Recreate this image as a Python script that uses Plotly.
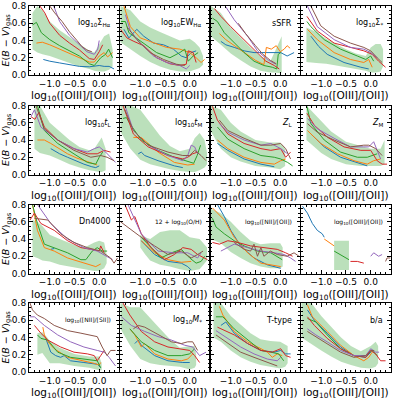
import plotly.graph_objects as go

W, H = 399, 399
COLORS = {"blue": "#1f77b4", "orange": "#ff7f0e", "green": "#2ca02c",
          "red": "#d62728", "purple": "#9467bd", "brown": "#8c564b"}
ORDER = ["blue", "orange", "green", "red", "purple", "brown"]

XTICKS = [-1.0, -0.5, 0.0]
XTICKTEXT = ["\u22121.0", "\u22120.5", "0.0"]
YTICKS = [0.0, 0.2, 0.4, 0.6, 0.8]
YTICKTEXT = ["0.0", "0.2", "0.4", "0.6", "0.8"]

# ---------------- panel data: each series is (x, y) ----------------
SIGHA = {
    "blue": ([-1.13, -1.0, -0.8, -0.6, -0.4, -0.2, 0.0, 0.1, 0.2, 0.3],
             [0.18, 0.16, 0.14, 0.12, 0.10, 0.095, 0.11, 0.10, 0.10, 0.07]),
    "orange": ([-1.27, -1.15, -1.0, -0.8, -0.6, -0.4, -0.2, -0.1, 0.0, 0.1, 0.17, 0.27],
               [0.37, 0.38, 0.35, 0.30, 0.25, 0.20, 0.15, 0.15, 0.22, 0.26, 0.21, 0.26]),
    "green": ([-1.35, -1.27, -1.17, -1.0, -0.8, -0.6, -0.4, -0.2, -0.1, 0.03, 0.13, 0.19, 0.27],
              [0.58, 0.61, 0.49, 0.41, 0.34, 0.28, 0.22, 0.13, 0.11, 0.20, 0.24, 0.30, 0.20]),
    "red": ([-1.2, -1.1, -1.0, -0.8, -0.6, -0.4, -0.2, -0.1, 0.0, 0.07],
            [0.80, 0.72, 0.60, 0.46, 0.37, 0.29, 0.19, 0.18, 0.27, 0.35]),
    "purple": ([-0.92, -0.8, -0.6, -0.4, -0.25, -0.1, -0.03, 0.0],
               [0.80, 0.62, 0.46, 0.35, 0.27, 0.24, 0.30, 0.40]),
    "brown": ([-1.0, -0.9, -0.75, -0.6, -0.45, -0.35, -0.25, -0.15],
              [0.80, 0.72, 0.62, 0.50, 0.40, 0.33, 0.29, 0.27]),
}
SIGHA_BAND = ([-1.35, -1.25, -1.15, -1.0, -0.8, -0.6, -0.4, -0.2, -0.1, 0.0, 0.1, 0.2, 0.27],
              [0.72, 0.80, 0.75, 0.62, 0.52, 0.44, 0.36, 0.28, 0.26, 0.35, 0.45, 0.48, 0.30],
              [0.30, 0.26, 0.24, 0.22, 0.18, 0.14, 0.10, 0.07, 0.05, 0.04, 0.04, 0.06, 0.10])

EWHA = {
    "blue": ([-1.33, -1.23, -1.07, -0.93, -0.73, -0.53, -0.33, -0.17, -0.07, 0.03, 0.13],
             [0.53, 0.43, 0.53, 0.45, 0.37, 0.35, 0.30, 0.22, 0.20, 0.26, 0.28]),
    "orange": ([-1.33, -1.2, -1.0, -0.73, -0.47, -0.2, 0.0, 0.13, 0.23, 0.3],
               [0.80, 0.56, 0.43, 0.37, 0.32, 0.30, 0.26, 0.20, 0.145, 0.18]),
    "green": ([-1.39, -1.3, -1.23, -1.13, -0.93, -0.67, -0.4, -0.2, -0.1, -0.03, 0.07, 0.17],
              [0.62, 0.62, 0.49, 0.45, 0.37, 0.26, 0.20, 0.26, 0.30, 0.16, 0.22, 0.26]),
    "red": ([-1.4, -1.27, -1.13, -0.93, -0.67, -0.4, -0.2, -0.07, -0.03, 0.07, 0.13],
            [0.53, 0.43, 0.39, 0.34, 0.20, 0.13, 0.11, 0.125, 0.28, 0.26, 0.145]),
    "purple": ([-1.3, -1.2, -1.0, -0.73, -0.47, -0.2, -0.07, 0.0],
               [0.70, 0.51, 0.37, 0.22, 0.145, 0.11, 0.07, 0.11]),
    "brown": ([-1.27, -1.07, -0.8, -0.53, -0.27, -0.1],
              [0.56, 0.41, 0.26, 0.18, 0.125, 0.11]),
}
EWHA_BAND = ([-1.4, -1.2, -1.0, -0.8, -0.6, -0.4, -0.2, 0.0, 0.1, 0.2, 0.27],
             [0.80, 0.75, 0.62, 0.55, 0.50, 0.45, 0.40, 0.42, 0.38, 0.32, 0.22],
             [0.38, 0.30, 0.22, 0.15, 0.10, 0.06, 0.04, 0.04, 0.06, 0.08, 0.12])

SSFR = {
    "blue": ([-1.2, -1.1, -0.93, -0.73, -0.53, -0.26, 0.01, 0.14, 0.28],
             [0.39, 0.35, 0.32, 0.28, 0.26, 0.26, 0.26, 0.22, 0.26]),
    "orange": ([-1.23, -1.1, -0.9, -0.7, -0.5, -0.33, -0.28, -0.18, -0.08, 0.0, 0.08, 0.14, 0.2],
               [0.48, 0.41, 0.33, 0.25, 0.17, 0.12, 0.32, 0.30, 0.34, 0.27, 0.30, 0.34, 0.31]),
    "green": ([-1.37, -1.27, -1.13, -0.93, -0.73, -0.53, -0.33, -0.16, -0.07, -0.04, 0.01],
              [0.66, 0.62, 0.49, 0.37, 0.26, 0.16, 0.11, 0.09, 0.07, 0.24, 0.26]),
    "red": ([-1.33, -1.2, -1.0, -0.73, -0.53, -0.29, -0.12, -0.02],
            [0.77, 0.68, 0.56, 0.41, 0.30, 0.16, 0.11, 0.07]),
    "purple": ([-1.1, -0.93, -0.66, -0.46, -0.26, -0.09],
               [0.79, 0.64, 0.45, 0.28, 0.18, 0.125]),
    "brown": ([-0.85, -0.7, -0.5, -0.35, -0.2, -0.08],
              [0.60, 0.48, 0.34, 0.24, 0.17, 0.13]),
}
SSFR_BAND = ([-1.4, -1.2, -1.0, -0.8, -0.6, -0.4, -0.2, -0.1, 0.0, 0.03],
             [0.80, 0.72, 0.55, 0.43, 0.32, 0.22, 0.16, 0.28, 0.42, 0.45],
             [0.45, 0.35, 0.25, 0.17, 0.10, 0.05, 0.03, 0.03, 0.02, 0.03])

SIGSTAR = {
    "blue": ([-1.21, -1.1, -1.05, -0.88, -0.54, -0.2, -0.04],
             [0.45, 0.36, 0.33, 0.24, 0.145, 0.09, 0.07]),
    "orange": ([-1.28, -1.08, -0.74, -0.41, -0.14, -0.04, 0.03],
               [0.53, 0.41, 0.26, 0.18, 0.145, 0.18, 0.09]),
    "green": ([-1.29, -1.21, -0.94, -0.61, -0.27, -0.1, 0.0, 0.06],
              [0.62, 0.56, 0.41, 0.30, 0.22, 0.18, 0.22, 0.16]),
    "red": ([-1.29, -1.08, -0.74, -0.41, -0.14, 0.03, 0.16, 0.3],
            [0.68, 0.51, 0.37, 0.32, 0.28, 0.24, 0.16, 0.09]),
    "purple": ([-1.28, -1.08, -0.74, -0.41, -0.14, 0.0, 0.13],
               [0.80, 0.56, 0.41, 0.32, 0.30, 0.26, 0.20]),
    "brown": ([-1.21, -1.01, -0.74, -0.41, -0.14, 0.0, 0.13, 0.23],
              [0.80, 0.57, 0.45, 0.37, 0.32, 0.28, 0.20, 0.145]),
}
SIGSTAR_BAND = ([-1.3, -1.1, -0.9, -0.7, -0.5, -0.3, -0.1, 0.0, 0.1, 0.2, 0.25],
                [0.55, 0.50, 0.42, 0.36, 0.30, 0.25, 0.22, 0.32, 0.36, 0.36, 0.30],
                [0.15, 0.14, 0.13, 0.11, 0.09, 0.07, 0.05, 0.03, 0.03, 0.04, 0.10])

TL = {
    "blue": ([-0.98, -0.8, -0.64, -0.45, -0.31, -0.15, -0.07, 0.0],
             [0.30, 0.24, 0.20, 0.15, 0.12, 0.09, 0.08, 0.10]),
    "orange": ([-1.25, -1.11, -0.98, -0.8, -0.64, -0.45, -0.31, -0.15, -0.04],
               [0.40, 0.40, 0.36, 0.30, 0.24, 0.19, 0.16, 0.13, 0.11]),
    "green": ([-1.25, -1.11, -0.84, -0.51, -0.24, -0.07, 0.0, 0.07],
              [0.80, 0.51, 0.36, 0.24, 0.14, 0.12, 0.20, 0.26]),
    "red": ([-1.38, -1.3, -1.22, -1.11, -0.84, -0.51, -0.24, -0.04, 0.1, 0.23],
            [0.67, 0.64, 0.72, 0.55, 0.40, 0.30, 0.24, 0.24, 0.28, 0.26]),
    "purple": ([-1.38, -1.31, -1.18, -0.84, -0.51, -0.24, -0.1, 0.0, 0.13, 0.27, 0.33],
               [0.67, 0.75, 0.55, 0.40, 0.30, 0.26, 0.30, 0.32, 0.26, 0.18, 0.14]),
    "brown": ([-1.28, -1.11, -0.84, -0.51, -0.17, 0.03, 0.16, 0.3],
              [0.80, 0.53, 0.40, 0.28, 0.20, 0.22, 0.20, 0.16]),
}
TL_BAND = ([-1.31, -1.2, -1.0, -0.8, -0.6, -0.4, -0.2, -0.1, 0.0, 0.05, 0.13],
           [0.80, 0.80, 0.60, 0.50, 0.40, 0.32, 0.28, 0.30, 0.38, 0.43, 0.30],
           [0.30, 0.25, 0.22, 0.17, 0.12, 0.08, 0.05, 0.04, 0.03, 0.03, 0.05])

TM = {
    "blue": ([-1.04, -0.98, -0.91, -0.64, -0.31, -0.14],
             [0.24, 0.26, 0.22, 0.16, 0.10, 0.08]),
    "orange": ([-1.14, -0.98, -0.64, -0.31, -0.04, 0.1],
               [0.43, 0.43, 0.26, 0.14, 0.11, 0.12]),
    "green": ([-1.35, -1.28, -1.21, -0.98, -0.64, -0.31, -0.14, 0.0, 0.08, 0.15, 0.22],
              [0.65, 0.66, 0.59, 0.40, 0.28, 0.20, 0.17, 0.14, 0.13, 0.22, 0.34]),
    "red": ([-1.35, -1.14, -0.84, -0.44, -0.14, -0.04, 0.06, 0.16],
            [0.80, 0.47, 0.32, 0.22, 0.18, 0.20, 0.24, 0.26]),
    "purple": ([-1.31, -1.14, -0.84, -0.44, -0.14, -0.04, 0.03, 0.1, 0.16],
               [0.80, 0.51, 0.34, 0.22, 0.16, 0.22, 0.34, 0.32, 0.24]),
    "brown": ([-1.31, -1.14, -0.84, -0.44, -0.14, 0.0, 0.1, 0.23, 0.33],
              [0.75, 0.51, 0.34, 0.26, 0.22, 0.22, 0.28, 0.22, 0.16]),
}
TM_BAND = ([-1.4, -1.2, -1.0, -0.8, -0.6, -0.4, -0.2, 0.0, 0.1, 0.2, 0.3, 0.35],
           [0.80, 0.80, 0.75, 0.60, 0.45, 0.33, 0.27, 0.30, 0.42, 0.48, 0.40, 0.25],
           [0.50, 0.30, 0.17, 0.12, 0.09, 0.06, 0.04, 0.03, 0.03, 0.05, 0.08, 0.12])

ZL = {
    "blue": ([-1.27, -1.06, -0.73, -0.39, -0.12],
             [0.36, 0.28, 0.18, 0.12, 0.09]),
    "orange": ([-1.27, -1.06, -0.73, -0.39, -0.12, 0.01, 0.11],
               [0.40, 0.30, 0.20, 0.14, 0.12, 0.16, 0.18]),
    "green": ([-1.27, -1.06, -0.73, -0.39, -0.12, 0.01, 0.15, 0.25],
              [0.55, 0.41, 0.30, 0.22, 0.20, 0.18, 0.14, 0.10]),
    "red": ([-1.37, -1.27, -1.06, -0.73, -0.39, -0.19, 0.01, 0.11, 0.21],
            [0.79, 0.63, 0.47, 0.36, 0.30, 0.28, 0.30, 0.20, 0.26]),
    "purple": ([-1.23, -1.06, -0.73, -0.39, -0.19, 0.01, 0.15],
               [0.59, 0.49, 0.40, 0.34, 0.36, 0.30, 0.24]),
    "brown": ([-1.23, -1.06, -0.73, -0.39, -0.19, 0.01, 0.11, 0.21],
              [0.63, 0.51, 0.42, 0.34, 0.34, 0.36, 0.30, 0.18]),
}
ZL_BAND = ([-1.4, -1.2, -1.0, -0.8, -0.5, -0.2, 0.0, 0.1],
           [0.80, 0.75, 0.60, 0.50, 0.40, 0.37, 0.37, 0.30],
           [0.50, 0.30, 0.20, 0.15, 0.10, 0.08, 0.06, 0.10])

ZM = {
    "blue": ([-1.21, -0.94, -0.61, -0.27, -0.07],
             [0.47, 0.32, 0.20, 0.14, 0.10]),
    "orange": ([-1.28, -1.01, -0.67, -0.34, -0.07, 0.06, 0.2],
               [0.51, 0.36, 0.24, 0.16, 0.12, 0.16, 0.18]),
    "green": ([-1.29, -1.21, -0.94, -0.61, -0.27, -0.07, 0.13],
              [0.79, 0.59, 0.40, 0.26, 0.20, 0.20, 0.24]),
    "red": ([-1.29, -1.14, -0.87, -0.54, -0.2, 0.0, 0.13, 0.23, 0.33],
            [0.71, 0.57, 0.43, 0.32, 0.28, 0.28, 0.16, 0.12, 0.12]),
    "purple": ([-1.28, -1.08, -0.74, -0.41, -0.14, -0.04, 0.06, 0.13, 0.2],
               [0.65, 0.53, 0.42, 0.32, 0.32, 0.32, 0.38, 0.28, 0.18]),
    "brown": ([-1.28, -1.08, -0.74, -0.41, -0.14, -0.04, 0.1, 0.23],
              [0.59, 0.49, 0.40, 0.32, 0.34, 0.34, 0.30, 0.22]),
}
ZM_BAND = ([-1.3, -1.0, -0.8, -0.5, -0.2, 0.0, 0.2, 0.28],
           [0.80, 0.62, 0.50, 0.38, 0.33, 0.30, 0.30, 0.40],
           [0.40, 0.25, 0.18, 0.12, 0.10, 0.10, 0.10, 0.12])

DN4000 = {
    "blue": ([-0.98, -0.91], [0.28, 0.29]),
    "orange": ([-1.35, -1.25, -1.11, -0.91, -0.64, -0.31, -0.07, 0.03],
               [0.80, 0.50, 0.30, 0.26, 0.18, 0.12, 0.08, 0.11]),
    "green": ([-1.35, -1.25, -1.11, -0.91, -0.64, -0.37, -0.27, -0.14, -0.04, 0.06, 0.16],
              [0.80, 0.58, 0.34, 0.30, 0.24, 0.16, 0.16, 0.26, 0.30, 0.26, 0.26]),
    "red": ([-1.4, -1.31, -1.18, -0.91, -0.64, -0.37, -0.17, 0.0, 0.03, 0.1],
            [0.62, 0.70, 0.58, 0.50, 0.38, 0.30, 0.28, 0.26, 0.32, 0.24]),
    "purple": ([-1.25, -0.98, -0.64, -0.31, -0.04, 0.16, 0.27],
               [0.80, 0.58, 0.40, 0.30, 0.26, 0.20, 0.16]),
    "brown": ([-1.31, -1.04, -0.78, -0.51, -0.24, 0.03, 0.23, 0.3, 0.37],
              [0.64, 0.62, 0.46, 0.36, 0.30, 0.26, 0.18, 0.12, 0.18]),
}
DN4000_BAND = ([-1.35, -1.25, -1.15, -1.0, -0.8, -0.5, -0.3, -0.1, 0.0, 0.1, 0.15],
               [0.62, 0.60, 0.55, 0.45, 0.40, 0.33, 0.30, 0.36, 0.38, 0.36, 0.22],
               [0.20, 0.18, 0.15, 0.14, 0.10, 0.07, 0.05, 0.03, 0.03, 0.06, 0.12])

OH = {
    "blue": ([-0.98, -0.71, -0.44, -0.17, -0.04, 0.03],
             [0.38, 0.22, 0.14, 0.12, 0.08, 0.04]),
    "orange": ([-0.98, -0.71, -0.44, -0.17, 0.03],
               [0.38, 0.24, 0.16, 0.13, 0.14]),
    "green": ([-0.98, -0.84, -0.58, -0.37, -0.17, 0.0, 0.13, 0.23, 0.3],
              [0.42, 0.34, 0.18, 0.24, 0.28, 0.18, 0.12, 0.14, 0.20]),
    "red": ([-1.31, -1.18, -1.11, -0.98, -0.78, -0.51, -0.31, -0.14, 0.03, 0.16, 0.36],
            [0.80, 0.62, 0.66, 0.46, 0.30, 0.16, 0.22, 0.30, 0.28, 0.22, 0.16]),
    "purple": ([-1.25, -0.98, -0.64, -0.31, -0.04, 0.16, 0.23],
               [0.80, 0.46, 0.26, 0.24, 0.24, 0.18, 0.24]),
    "brown": ([-1.4, -1.18, -0.98, -0.71, -0.44, -0.17, 0.03, 0.16, 0.27],
              [0.60, 0.50, 0.42, 0.32, 0.22, 0.26, 0.18, 0.22, 0.26]),
}
OH_BAND = ([-1.0, -0.9, -0.8, -0.6, -0.4, -0.2, 0.0, 0.2, 0.35],
           [0.45, 0.42, 0.40, 0.48, 0.50, 0.50, 0.42, 0.40, 0.30],
           [0.30, 0.22, 0.15, 0.10, 0.08, 0.05, 0.03, 0.05, 0.15])

N2O2 = {
    "blue": ([-1.27, -1.13, -1.0, -0.8, -0.53, -0.26, 0.01],
             [0.80, 0.66, 0.50, 0.32, 0.18, 0.10, 0.06]),
    "orange": ([-1.37, -1.13, -0.93, -0.66, -0.39, 0.01],
               [0.76, 0.62, 0.42, 0.24, 0.12, 0.08]),
    "green": ([-1.37, -1.3, -1.13, -0.93, -0.73, -0.46, -0.19, -0.06, 0.04],
              [0.64, 0.54, 0.46, 0.38, 0.32, 0.26, 0.24, 0.20, 0.16]),
    "red": ([-1.37, -1.23, -1.06, -0.86, -0.6, -0.33, -0.06, 0.11, 0.25],
            [0.36, 0.34, 0.38, 0.36, 0.32, 0.30, 0.28, 0.24, 0.20]),
    "purple": ([-1.2, -0.93, -0.66, -0.39, -0.12, 0.08, 0.21, 0.31],
               [0.26, 0.34, 0.30, 0.26, 0.24, 0.22, 0.18, 0.14]),
    "brown": ([-0.93, -0.73, -0.6, -0.53, -0.46, -0.39, -0.33, -0.2, -0.06, 0.14, 0.28, 0.38],
              [0.36, 0.28, 0.26, 0.34, 0.20, 0.30, 0.20, 0.26, 0.22, 0.20, 0.24, 0.20]),
}
N2O2_BAND = ([-1.4, -1.2, -1.0, -0.8, -0.6, -0.4, -0.2, 0.0, 0.05],
             [0.75, 0.70, 0.60, 0.48, 0.38, 0.34, 0.35, 0.35, 0.30],
             [0.40, 0.35, 0.25, 0.18, 0.12, 0.08, 0.06, 0.06, 0.08])

O3O2 = {
    "blue": ([-1.38, -1.28, -1.18, -1.08, -0.98, -0.94],
             [0.78, 0.70, 0.58, 0.50, 0.46, 0.42]),
    "orange": ([-0.94, -0.84, -0.74], [0.40, 0.36, 0.32]),
    "green": ([-0.74, -0.61, -0.44], [0.26, 0.22, 0.16]),
    "red": ([-0.41, -0.27, -0.14], [0.14, 0.14, 0.12]),
    "purple": ([0.0, 0.06, 0.16, 0.23], [0.20, 0.24, 0.20, 0.22]),
    "brown": ([0.3, 0.33, 0.4], [0.14, 0.18, 0.18]),
}
O3O2_BAND = ([-0.74, -0.44], [0.38, 0.38], [0.04, 0.04])

N2S2 = {
    "blue": ([-1.08, -0.98, -0.88, -0.78, -0.71, -0.58, -0.31, -0.04, 0.03],
             [0.39, 0.23, 0.19, 0.17, 0.19, 0.13, 0.11, 0.09, 0.05]),
    "orange": ([-1.14, -1.11, -1.04, -0.91, -0.64, -0.31, -0.1, 0.0, 0.03],
               [0.52, 0.43, 0.35, 0.27, 0.17, 0.13, 0.10, 0.08, 0.11]),
    "green": ([-1.25, -1.18, -1.04, -0.84, -0.58, -0.24, -0.04, 0.03],
              [0.43, 0.39, 0.37, 0.23, 0.17, 0.15, 0.13, 0.05]),
    "red": ([-1.31, -1.18, -1.04, -0.78, -0.51, -0.24, -0.1, -0.04, 0.03, 0.1],
            [0.54, 0.45, 0.37, 0.29, 0.23, 0.21, 0.19, 0.13, 0.19, 0.25]),
    "purple": ([-1.4, -1.31, -1.11, -0.84, -0.58, -0.31, -0.04, 0.1, 0.2, 0.33],
               [0.64, 0.64, 0.54, 0.43, 0.35, 0.29, 0.25, 0.23, 0.17, 0.07]),
    "brown": ([-1.4, -1.35, -1.25, -1.11, -0.91, -0.64, -0.37, -0.17, -0.04, 0.06, 0.16, 0.23, 0.33],
              [0.80, 0.72, 0.66, 0.62, 0.54, 0.48, 0.45, 0.43, 0.41, 0.29, 0.19, 0.25, 0.25]),
}
N2S2_BAND = ([-1.25, -1.15, -1.05, -1.0, -0.8, -0.5, -0.2, 0.0, 0.05],
             [0.45, 0.46, 0.40, 0.36, 0.28, 0.21, 0.18, 0.18, 0.10],
             [0.20, 0.22, 0.14, 0.10, 0.10, 0.07, 0.05, 0.02, 0.02])

MSTAR = {
    "blue": ([-1.11, -1.04, -0.98, -0.71, -0.44, -0.14, 0.0],
             [0.33, 0.37, 0.31, 0.19, 0.13, 0.11, 0.11]),
    "orange": ([-1.21, -1.11, -0.98, -0.91, -0.71, -0.44, -0.17, -0.04, 0.06],
               [0.50, 0.43, 0.29, 0.33, 0.21, 0.15, 0.13, 0.15, 0.21]),
    "green": ([-1.21, -0.98, -0.71, -0.44, -0.17, 0.0, 0.1],
              [0.50, 0.35, 0.25, 0.19, 0.19, 0.21, 0.27]),
    "red": ([-1.35, -1.21, -0.98, -0.71, -0.44, -0.17, 0.0, 0.1, 0.2],
            [0.80, 0.66, 0.47, 0.35, 0.29, 0.27, 0.25, 0.19, 0.11]),
    "purple": ([-1.38, -1.18, -0.91, -0.64, -0.37, -0.1, 0.06, 0.2, 0.33],
               [0.64, 0.54, 0.47, 0.41, 0.37, 0.31, 0.29, 0.19, 0.23]),
    "brown": ([-1.14, -1.04, -0.91, -0.64, -0.37, -0.17, -0.04, 0.06, 0.16],
              [0.50, 0.54, 0.52, 0.43, 0.35, 0.33, 0.35, 0.35, 0.25]),
}
MSTAR_BAND = ([-1.4, -1.2, -1.0, -0.8, -0.6, -0.4, -0.2, 0.0, 0.1, 0.13],
              [0.80, 0.75, 0.75, 0.62, 0.50, 0.38, 0.28, 0.30, 0.30, 0.20],
              [0.50, 0.30, 0.15, 0.10, 0.08, 0.07, 0.06, 0.03, 0.05, 0.08])

TTYPE = {
    "blue": ([-1.2, -1.1, -0.93, -0.66, -0.39, -0.12, 0.01, 0.11, 0.21],
             [0.54, 0.58, 0.45, 0.33, 0.25, 0.23, 0.25, 0.21, 0.21]),
    "orange": ([-1.23, -1.16, -0.93, -0.66, -0.39, -0.26, -0.16, -0.06, 0.04],
               [0.76, 0.66, 0.47, 0.35, 0.27, 0.23, 0.17, 0.21, 0.19]),
    "green": ([-1.3, -1.16, -0.93, -0.66, -0.39, -0.19, -0.03, 0.07],
              [0.64, 0.64, 0.50, 0.37, 0.25, 0.23, 0.21, 0.13]),
    "red": ([-1.27, -0.93, -0.66, -0.39, -0.16, 0.01, 0.11, 0.21],
            [0.52, 0.43, 0.33, 0.25, 0.23, 0.27, 0.19, 0.17]),
    "purple": ([-1.3, -1.06, -0.8, -0.53, -0.26, -0.06, 0.01],
               [0.48, 0.39, 0.29, 0.21, 0.15, 0.13, 0.17]),
    "brown": ([-1.3, -1.06, -0.8, -0.53, -0.26, -0.06],
              [0.43, 0.33, 0.23, 0.17, 0.11, 0.07]),
}
TTYPE_BAND = ([-1.35, -1.2, -1.0, -0.8, -0.6, -0.4, -0.2, 0.0, 0.1, 0.15],
              [0.80, 0.80, 0.65, 0.55, 0.45, 0.38, 0.36, 0.35, 0.32, 0.30],
              [0.40, 0.35, 0.25, 0.17, 0.12, 0.08, 0.06, 0.04, 0.06, 0.10])

BA = {
    "blue": ([-1.28, -1.14, -0.88, -0.61, -0.34, -0.1, 0.0],
             [0.72, 0.60, 0.45, 0.29, 0.19, 0.17, 0.23]),
    "orange": ([-1.28, -1.18, -0.88, -0.61, -0.34, -0.14, -0.04, 0.03],
               [0.78, 0.64, 0.47, 0.31, 0.19, 0.13, 0.17, 0.23]),
    "green": ([-1.28, -1.11, -0.88, -0.61, -0.34, -0.1, 0.03, 0.13],
              [0.62, 0.58, 0.43, 0.27, 0.19, 0.19, 0.25, 0.19]),
    "red": ([-1.28, -1.14, -0.88, -0.61, -0.34, -0.1, 0.0, 0.1, 0.2, 0.3],
            [0.64, 0.54, 0.39, 0.27, 0.19, 0.17, 0.25, 0.21, 0.13, 0.13]),
    "purple": ([-1.28, -1.11, -0.88, -0.61, -0.34, -0.1, 0.0, 0.1, 0.17],
               [0.50, 0.43, 0.35, 0.25, 0.19, 0.19, 0.27, 0.23, 0.23]),
    "brown": ([-1.28, -1.11, -0.88, -0.61, -0.34, -0.1, 0.0, 0.07],
              [0.47, 0.41, 0.33, 0.23, 0.17, 0.19, 0.25, 0.25]),
}
BA_BAND = ([-1.4, -1.2, -1.0, -0.8, -0.6, -0.4, -0.2, 0.0, 0.1, 0.15],
           [0.80, 0.80, 0.65, 0.52, 0.40, 0.30, 0.24, 0.30, 0.35, 0.30],
           [0.40, 0.33, 0.25, 0.18, 0.12, 0.08, 0.05, 0.04, 0.06, 0.10])

LABELS = ["log<sub>10</sub>\u03a3<sub>H\u03b1</sub>", "log<sub>10</sub>EW<sub>H\u03b1</sub>", "sSFR",
          "log<sub>10</sub>\u03a3<sub>*</sub>",
          "log<sub>10</sub><i>t</i><sub>L</sub>", "log<sub>10</sub><i>t</i><sub>M</sub>",
          "<i>Z</i><sub>L</sub>", "<i>Z</i><sub>M</sub>",
          "Dn4000", "12 + log<sub>10</sub>(O/H)", "log<sub>10</sub>([NII]/[OII])",
          "log<sub>10</sub>([OIII]/[OII])",
          "log<sub>10</sub>([NII]/[SII])", "log<sub>10</sub><i>M</i><sub>*</sub>", "T-type", "b/a"]
LABEL_SIZES = [8, 8, 8, 8, 8, 8, 8, 8, 8, 6, 6, 6, 6, 8, 8, 8]
XTITLE = "log<sub>10</sub>([OIII]/[OII])"
YTITLE = "<i>E</i>(<i>B</i> \u2212 <i>V</i>)<sub>gas</sub>"
PANELS = [SIGHA, EWHA, SSFR, SIGSTAR, TL, TM, ZL, ZM,
          DN4000, OH, N2O2, O3O2, N2S2, MSTAR, TTYPE, BA]
BANDS = [SIGHA_BAND, EWHA_BAND, SSFR_BAND, SIGSTAR_BAND, TL_BAND, TM_BAND, ZL_BAND, ZM_BAND,
         DN4000_BAND, OH_BAND, N2O2_BAND, O3O2_BAND, N2S2_BAND, MSTAR_BAND, TTYPE_BAND, BA_BAND]

# ---------------- layout geometry (pixels) ----------------
LEFTS = [29, 119.5, 210, 300.5]
TOPS = [6, 105.5, 204.5, 303]
PW, PH = 90, 69
FONT = "DejaVu Sans"

fig = go.Figure()
layout = dict(
    width=W, height=H, margin=dict(l=0, r=0, t=0, b=0),
    paper_bgcolor="white", plot_bgcolor="white", showlegend=False,
    font=dict(family=FONT, color="black"),
)
annotations = []

for i, (data, band) in enumerate(zip(PANELS, BANDS)):
    r, c = divmod(i, 4)
    n = i + 1
    xr = "x" if n == 1 else f"x{n}"
    yr = "y" if n == 1 else f"y{n}"
    bx, bu, bl = band
    fig.add_trace(go.Scatter(
        x=list(bx) + list(bx)[::-1], y=list(bu) + list(bl)[::-1],
        fill="toself", fillcolor="rgba(44,160,44,0.32)", mode="lines",
        line=dict(width=0), hoverinfo="skip", xaxis=xr, yaxis=yr))
    for col in ORDER:
        if col in data:
            xs, ys = data[col]
            fig.add_trace(go.Scatter(x=xs, y=ys, mode="lines",
                                     line=dict(color=COLORS[col], width=1.0),
                                     xaxis=xr, yaxis=yr))
    x0 = LEFTS[c] / W
    x1 = (LEFTS[c] + PW) / W
    y1 = 1 - TOPS[r] / H
    y0 = 1 - (TOPS[r] + PH) / H
    common = dict(showline=True, linecolor="black", linewidth=1, mirror="allticks",
                  ticks="inside", ticklen=3.5, tickwidth=0.8, tickcolor="black",
                  showgrid=False, zeroline=False, tickangle=0, automargin=False,
                  tickfont=dict(family=FONT, size=9, color="black"))
    xa = dict(common, domain=[x0, x1], anchor=yr, range=[-1.42, 0.4],
              tickmode="array", tickvals=XTICKS, ticktext=XTICKTEXT,
              minor=dict(ticks="inside", ticklen=2, tickwidth=0.6, dtick=0.1,
                         tick0=0, tickcolor="black"))
    ya = dict(common, domain=[y0, y1], anchor=xr, range=[0, 0.8],
              tickmode="array", tickvals=YTICKS, ticktext=YTICKTEXT,
              showticklabels=(c == 0),
              minor=dict(ticks="inside", ticklen=2, tickwidth=0.6, dtick=0.05,
                         tick0=0, tickcolor="black"))
    layout["xaxis" if n == 1 else f"xaxis{n}"] = xa
    layout["yaxis" if n == 1 else f"yaxis{n}"] = ya
    # panel label
    annotations.append(dict(
        x=(LEFTS[c] + PW - 6) / W, y=1 - (TOPS[r] + 17) / H, xref="paper", yref="paper",
        xanchor="right", yanchor="middle", showarrow=False, text=LABELS[i],
        font=dict(family=FONT, size=LABEL_SIZES[i], color="black")))
    # x-axis title
    annotations.append(dict(
        x=(LEFTS[c] + PW / 2) / W, y=1 - (TOPS[r] + PH + 21) / H, xref="paper", yref="paper",
        xanchor="center", yanchor="middle", showarrow=False, text=XTITLE,
        font=dict(family=FONT, size=10.5, color="black")))
    if c == 0:
        annotations.append(dict(
            x=6 / W, y=1 - (TOPS[r] + PH / 2) / H, xref="paper", yref="paper",
            xanchor="center", yanchor="middle", showarrow=False, text=YTITLE,
            textangle=-90, font=dict(family=FONT, size=9.5, color="black")))

layout["annotations"] = annotations
fig.update_layout(**layout)
fig.write_html("out.html", config={"displayModeBar": False},
               post_script="document.body.style.margin='0px';")
